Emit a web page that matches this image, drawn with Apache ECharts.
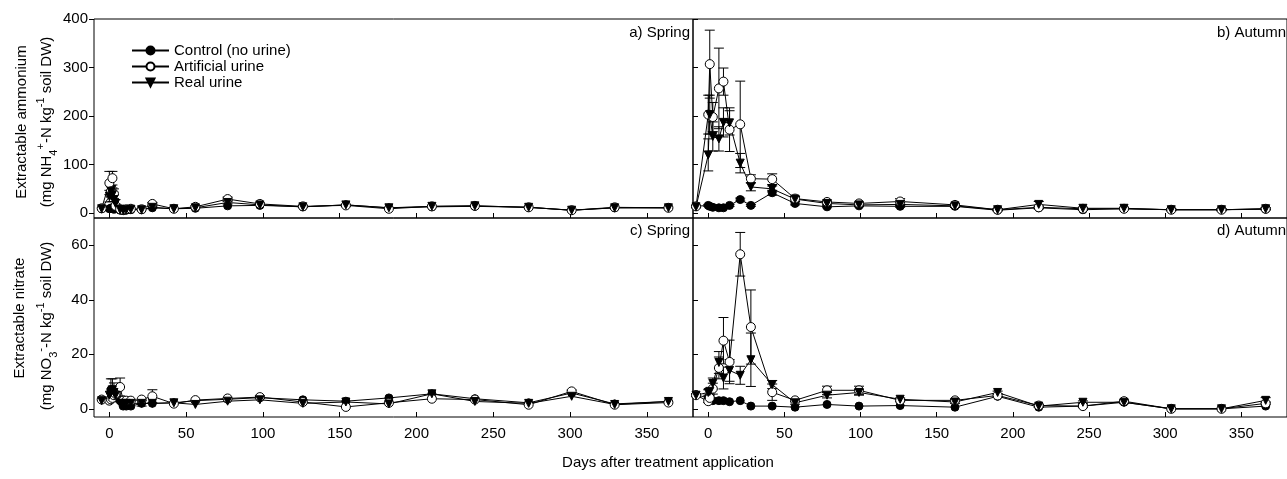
<!DOCTYPE html>
<html>
<head>
<meta charset="utf-8">
<script src="https://cdn.jsdelivr.net/npm/echarts@6/dist/echarts.min.js"></script>
<style>
  html, body { margin: 0; padding: 0; background: #fff; }
  #chart { width: 1287px; height: 479px; }
</style>
</head>
<body>
<div id="chart"></div>
<script>
// sampling days (days after treatment application)
const springDays = [-5, 0, 1, 2, 3, 4, 7, 9, 11, 14, 21, 28, 42, 56, 77, 98, 126, 154, 182, 210, 238, 273, 301, 329, 364];
const autumnDays = [-8, 0, 1, 3, 7, 10, 14, 21, 28, 42, 57, 78, 99, 126, 162, 190, 217, 246, 273, 304, 337, 366];

// a) spring ammonium
const springNH4Control = [9, 9, 10, 9, 8, 9, 6, 5, 6, 7, 7, 11, 9, 10, 15, 16, 13, 17, 11, 13, 14, 12, 6, 11, 11];
const springNH4Artificial = [10, 62, 45, 72, 40, 15, 8, 7, 8, 9, 8, 19, 9, 13, 29, 19, 14, 16, 9, 14, 15, 12, 6, 12, 11];
const springNH4Real = [9, 35, 45, 38, 28, 20, 8, 6, 7, 8, 7, 12, 9, 11, 22, 17, 13, 17, 11, 14, 15, 12, 6, 11, 11];
const springNH4ArtificialErr = [0, 24, 10, 14, 10, 4, 0, 0, 0, 0, 0, 3, 0, 2, 4, 2, 2, 2, 0, 0, 0, 0, 0, 0, 0];
const springNH4RealErr = [0, 12, 12, 14, 10, 8, 0, 0, 0, 0, 0, 2, 0, 0, 3, 0, 0, 0, 0, 0, 0, 0, 0, 0, 0];

// b) autumn ammonium
const autumnNH4Control = [14, 16, 14, 12, 11, 11, 16, 28, 16, 42, 20, 13, 15, 14, 14, 6, 11, 7, 9, 7, 7, 8];
const autumnNH4Artificial = [14, 203, 307, 198, 257, 271, 172, 183, 71, 70, 30, 23, 20, 24, 17, 7, 12, 9, 9, 7, 7, 9];
const autumnNH4Real = [13, 120, 203, 158, 153, 187, 186, 103, 54, 50, 29, 20, 17, 18, 15, 7, 18, 10, 10, 7, 7, 9];
const autumnNH4ControlErr = [2, 2, 2, 2, 2, 2, 2, 3, 2, 5, 3, 2, 2, 2, 2, 1, 2, 1, 1, 1, 1, 1];
const autumnNH4ArtificialErr = [2, 40, 70, 30, 83, 28, 45, 89, 8, 11, 5, 4, 3, 6, 3, 2, 3, 2, 2, 2, 2, 2];
const autumnNH4RealErr = [2, 33, 40, 30, 25, 30, 25, 20, 8, 6, 5, 3, 3, 3, 3, 2, 6, 2, 2, 2, 2, 2];

// c) spring nitrate
const springNO3Control = [3.4, 3, 7, 7, 6.5, 4, 3, 1, 1, 1, 2, 2, 2.2, 3, 3.5, 4.1, 3.3, 2.8, 4, 5.5, 3.7, 2.2, 5.8, 1.8, 2.7];
const springNO3Artificial = [3.4, 3, 3.5, 4, 5, 5.5, 8, 3, 3, 3, 3.4, 4.6, 1.9, 3.2, 3.8, 4.3, 2.5, 0.7, 2.2, 3.7, 3.4, 1.5, 6.4, 1.5, 2.3];
const springNO3Real = [3, 5, 6, 7, 6, 5, 2, 2, 2, 2, 2, 2, 2.2, 1.6, 2.8, 3.3, 2, 2.5, 1.8, 5.5, 2.7, 2, 4.6, 1.6, 2.7];
const springNO3ControlErr = [0, 0, 4, 4, 3, 1, 0, 0, 0, 0, 1, 0, 0, 0, 0, 0, 0, 0, 0, 0, 0, 0, 0, 0, 0];
const springNO3ArtificialErr = [0, 0, 0, 0, 1, 1, 3.3, 0, 0, 0, 0, 2.4, 0, 0, 0, 0.5, 0, 0, 0, 0, 0, 0, 0.5, 0, 0];

// d) autumn nitrate
const autumnNO3Control = [5.2, 4, 3.6, 3, 3, 3, 2.6, 3, 1, 1, 0.6, 1.6, 1, 1.2, 0.6, 4.6, 0.6, 1, 2.4, 0, 0, 1];
const autumnNO3Artificial = [5, 2.8, 4, 7.4, 15, 25, 17.2, 56.7, 30, 6.1, 3.1, 6.8, 6.8, 3.1, 3.1, 4.9, 1.2, 1, 2.8, 0, 0, 2];
const autumnNO3Real = [5, 6, 6.4, 9.3, 17, 11.3, 14.1, 12.3, 18, 8.9, 2.2, 5, 6, 3.5, 2.5, 6, 1, 2.4, 2.4, 0, 0, 3.1];
const autumnNO3ArtificialErr = [0.5, 0.5, 1, 2, 4, 8.5, 8, 8, 13.6, 3, 0.5, 1.5, 1.5, 0.5, 0.5, 0.5, 0.5, 0.5, 0.5, 0, 0, 0.5];
const autumnNO3RealErr = [0.5, 1, 1, 2, 4, 4, 4, 3.3, 9.8, 1.5, 0.5, 1, 1, 0.5, 0.5, 0.5, 0.5, 0.5, 0.5, 0, 0, 1];

const xTicks = [0, 50, 100, 150, 200, 250, 300, 350];
const nh4Ticks = [0, 100, 200, 300, 400];
const no3Ticks = [0, 20, 40, 60];

const NAMES = ['Control (no urine)', 'Artificial urine', 'Real urine'];
const FONT = 'Liberation Sans, Arial, sans-serif';

let chart = echarts.init(document.getElementById('chart'));

const zip = (days, vals, errs) => days.map((d, i) => errs ? [d, vals[i], errs[i]] : [d, vals[i]]);

function lineSeries(idx, kind, days, vals) {
    let s = {
        type: 'line', name: NAMES[kind],
        xAxisIndex: idx, yAxisIndex: idx,
        data: zip(days, vals),
        lineStyle: { color: '#000', width: 1 },
        itemStyle: { color: '#000', borderColor: '#000', borderWidth: 1 },
        symbol: 'circle', symbolSize: 8, z: 3, animation: false
    };
    if (kind === 1) {
        s.symbolSize = 9;
        s.itemStyle = { color: '#fff', borderColor: '#000', borderWidth: 1 };
    }
    if (kind === 2) { s.symbol = 'triangle'; s.symbolRotate = 180; s.symbolSize = 8; }
    return s;
}

function errSeries(idx, days, vals, errs) {
    return {
        type: 'custom', xAxisIndex: idx, yAxisIndex: idx, z: 2,
        data: zip(days, vals, errs),
        encode: { x: 0, y: 1 },
        silent: true, animation: false,
        renderItem: (params, api) => {
            const x = api.value(0), y = api.value(1), e = api.value(2);
            if (!e) return;
            const hi = api.coord([x, y + e]), lo = api.coord([x, y - e]);
            const w = 5, st = { stroke: '#000', lineWidth: 1 };
            return {
                type: 'group', children: [
                    { type: 'line', shape: { x1: hi[0], y1: hi[1], x2: lo[0], y2: lo[1] }, style: st },
                    { type: 'line', shape: { x1: hi[0] - w, y1: hi[1], x2: hi[0] + w, y2: hi[1] }, style: st },
                    { type: 'line', shape: { x1: lo[0] - w, y1: lo[1], x2: lo[0] + w, y2: lo[1] }, style: st }
                ]
            };
        }
    };
}

function xAxis(idx, showLabel) {
    return {
        type: 'value', gridIndex: idx, min: -10, max: 380,
        axisLine: { show: false, onZero: false }, splitLine: { show: false },
        axisTick: { show: true, inside: true, length: 5, customValues: xTicks, lineStyle: { color: '#000' } },
        axisLabel: { show: showLabel, customValues: xTicks, color: '#000', fontSize: 15, margin: 9, fontFamily: FONT }
    };
}

function yAxis(idx, min, max, ticks, left) {
    return {
        type: 'value', gridIndex: idx, min: min, max: max,
        axisLine: { show: false, onZero: false }, splitLine: { show: false },
        axisTick: { show: true, inside: !left, length: 5, customValues: ticks, lineStyle: { color: '#000' } },
        axisLabel: { show: left, customValues: ticks, color: '#000', fontSize: 15, margin: 6, fontFamily: FONT }
    };
}

const gridBase = { show: true, borderColor: '#000', borderWidth: 1, backgroundColor: 'transparent' };

let series = [];
const panels = [
    [springDays, [springNH4Control, springNH4Artificial, springNH4Real], [null, springNH4ArtificialErr, springNH4RealErr]],
    [autumnDays, [autumnNH4Control, autumnNH4Artificial, autumnNH4Real], [autumnNH4ControlErr, autumnNH4ArtificialErr, autumnNH4RealErr]],
    [springDays, [springNO3Control, springNO3Artificial, springNO3Real], [springNO3ControlErr, springNO3ArtificialErr, null]],
    [autumnDays, [autumnNO3Control, autumnNO3Artificial, autumnNO3Real], [null, autumnNO3ArtificialErr, autumnNO3RealErr]]
];
panels.forEach((p, idx) => {
    p[2].forEach((err, k) => { if (err) series.push(errSeries(idx, p[0], p[1][k], err)); });
    p[1].forEach((vals, kind) => series.push(lineSeries(idx, kind, p[0], vals)));
});

const label = (text, x, y, align) => ({
    type: 'text', x: x, y: y,
    style: { text: text, fill: '#000', font: '15px ' + FONT, textAlign: align, textVerticalAlign: 'middle' }
});

const rich = {
    b: { fontSize: 15, fontFamily: FONT, lineHeight: 24, verticalAlign: 'middle' },
    sub: { fontSize: 11, fontFamily: FONT, lineHeight: 24, verticalAlign: 'bottom' },
    sup: { fontSize: 11, fontFamily: FONT, lineHeight: 24, verticalAlign: 'top' }
};
const vtitle = (text, x, y) => ({
    type: 'text', x: x, y: y, rotation: Math.PI / 2,
    style: { text: text, rich: rich, fill: '#000', textAlign: 'center', textVerticalAlign: 'middle' }
});

chart.setOption({
    backgroundColor: '#fff',
    animation: false,
    textStyle: { fontFamily: FONT },
    grid: [
        Object.assign({ left: 94, top: 19, width: 599, height: 199 }, gridBase),
        Object.assign({ left: 693, top: 19, width: 599, height: 199 }, gridBase),
        Object.assign({ left: 94, top: 218, width: 599, height: 199 }, gridBase),
        Object.assign({ left: 693, top: 218, width: 599, height: 199 }, gridBase)
    ],
    xAxis: [xAxis(0, false), xAxis(1, false), xAxis(2, true), xAxis(3, true)],
    yAxis: [
        yAxis(0, -10, 400, nh4Ticks, true),
        yAxis(1, -10, 400, nh4Ticks, false),
        yAxis(2, -3, 70, no3Ticks, true),
        yAxis(3, -3, 70, no3Ticks, false)
    ],
    legend: {
        data: NAMES, orient: 'vertical', left: 126, top: 38,
        itemWidth: 37, itemHeight: 10, itemGap: 1,
        textStyle: { color: '#000', fontSize: 15, lineHeight: 15, fontFamily: FONT }
    },
    graphic: [
        label('a) Spring', 690, 33, 'right'),
        label('b) Autumn', 1217, 33, 'left'),
        label('c) Spring', 690, 231, 'right'),
        label('d) Autumn', 1217, 231, 'left'),
        label('Days after treatment application', 668, 463, 'center'),
        vtitle('{b|Extractable ammonium}', 22, 122),
        vtitle('{b|(mg NH}{sub|4}{sup|+}{b|-N kg}{sup|-1}{b| soil DW)}', 47, 122),
        vtitle('{b|Extractable nitrate}', 20, 318),
        vtitle('{b|(mg NO}{sub|3}{sup|-}{b|-N kg}{sup|-1}{b| soil DW)}', 47, 326)
    ],
    series: series
});
</script>
</body>
</html>
